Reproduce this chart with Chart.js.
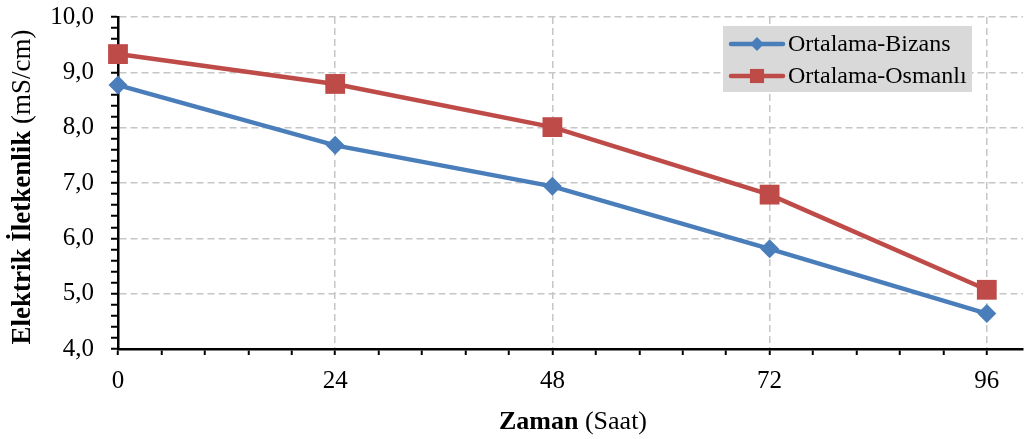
<!DOCTYPE html>
<html>
<head>
<meta charset="utf-8">
<script src="https://cdn.jsdelivr.net/npm/chart.js@4"></script>
<style>
  html, body { margin: 0; padding: 0; background: #fff; }
  #wrap { width: 1024px; height: 439px; }
</style>
</head>
<body>
<div id="wrap"><canvas id="c" width="1024" height="439"></canvas></div>
<script>
// data
const hours = [0, 24, 48, 72, 96];
const bizans = [8.77, 7.68, 6.94, 5.81, 4.64];
const osmanli = [9.33, 8.79, 8.01, 6.79, 5.07];
const seriesNames = ['Ortalama-Bizans', 'Ortalama-Osmanlı'];
const xTitle = ['Zaman', ' (Saat)'];
const yTitle = ['Elektrik İletkenlik', ' (mS/cm)'];

const BLUE = '#4a7ebb';
const RED = '#be4b48';
const SERIF = "'Liberation Serif', 'Times New Roman', serif";

// eksen basliklari (kalin + normal) ve sag ustteki legend kutusu
function mixedText(ctx, parts, x, y, size) {
    ctx.font = 'bold ' + size + 'px ' + SERIF;
    const w1 = ctx.measureText(parts[0]).width;
    ctx.font = size + 'px ' + SERIF;
    const w2 = ctx.measureText(parts[1]).width;
    const x0 = x - (w1 + w2) / 2;
    ctx.font = 'bold ' + size + 'px ' + SERIF;
    ctx.fillText(parts[0], x0, y);
    ctx.font = size + 'px ' + SERIF;
    ctx.fillText(parts[1], x0 + w1, y);
}

Chart.register({
    id: 'extras',
    afterDraw(chart) {
        const ctx = chart.ctx;
        ctx.save();
        ctx.fillStyle = '#000';
        ctx.textBaseline = 'middle';
        ctx.textAlign = 'left';

        mixedText(ctx, xTitle, 573, 422, 26);

        ctx.save();
        ctx.translate(23, 187);
        ctx.rotate(-Math.PI / 2);
        mixedText(ctx, yTitle, 0, 0, 27);
        ctx.restore();

        // legend
        const bx = 723, by = 26, bw = 249, bh = 66;
        ctx.fillStyle = '#d9d9d9';
        ctx.fillRect(bx, by, bw, bh);
        chart.data.datasets.forEach((ds, i) => {
            const y = by + 18 + i * 32;
            ctx.strokeStyle = ds.borderColor;
            ctx.lineWidth = 4.5;
            ctx.lineCap = 'round';
            ctx.beginPath();
            ctx.moveTo(731, y);
            ctx.lineTo(783, y);
            ctx.stroke();
            ctx.fillStyle = ds.pointBackgroundColor;
            Chart.helpers.drawPoint(ctx, {
                pointStyle: ds.pointStyle,
                radius: ds.pointStyle === 'rect' ? 10 : 7,
                borderWidth: 0
            }, 757, y);
            ctx.fillStyle = '#000';
            ctx.font = '24px ' + SERIF;
            ctx.fillText(ds.label, 788, y + 1);
        });
        ctx.restore();
    }
});

const grey = '#c6c6c6';

new Chart(document.getElementById('c').getContext('2d'), {
    type: 'line',
    data: {
        datasets: [{
            label: seriesNames[0],
            data: hours.map((h, i) => ({ x: h, y: bizans[i] })),
            borderColor: BLUE,
            backgroundColor: BLUE,
            pointBackgroundColor: BLUE,
            pointBorderWidth: 0,
            pointStyle: 'rectRot',
            pointRadius: 9.5,
            borderWidth: 4.5,
            tension: 0,
            clip: false
        }, {
            label: seriesNames[1],
            data: hours.map((h, i) => ({ x: h, y: osmanli[i] })),
            borderColor: RED,
            backgroundColor: RED,
            pointBackgroundColor: RED,
            pointBorderWidth: 0,
            pointStyle: 'rect',
            pointRadius: 14,
            borderWidth: 4.5,
            tension: 0,
            clip: false
        }]
    },
    options: {
        responsive: false,
        animation: false,
        events: [],
        layout: { autoPadding: false, padding: { top: 17, right: 1, left: 0, bottom: 0 } },
        plugins: {
            legend: { display: false },
            tooltip: { enabled: false }
        },
        scales: {
            x: {
                type: 'linear',
                min: 0,
                max: 100,
                afterBuildTicks(scale) {
                    scale.ticks = scale.ticks.filter(t => t.value <= 96.001);
                },
                afterFit(scale) { scale.height = 90; },
                ticks: {
                    stepSize: 4.8,
                    includeBounds: false,
                    autoSkip: false,
                    maxRotation: 0,
                    padding: 11,
                    color: '#000',
                    font: { family: SERIF, size: 25 },
                    callback: v => (Math.abs(v % 24) < 0.001 ? String(v) : '')
                },
                grid: {
                    color: c => (c.tick && c.tick.value > 0 && Math.abs(c.tick.value % 24) < 0.001 ? grey : 'rgba(0,0,0,0)'),
                    lineWidth: 1.5,
                    tickColor: '#000',
                    tickLength: 6,
                    tickWidth: 2
                },
                border: { color: '#000', width: 2.5, dash: [7, 4] }
            },
            y: {
                min: 4,
                max: 10,
                afterFit(scale) {
                    scale.width = 118;
                    scale.paddingTop = 0;
                    scale.paddingBottom = 0;
                },
                ticks: {
                    stepSize: 0.2,
                    autoSkip: false,
                    padding: 17,
                    color: '#000',
                    font: { family: SERIF, size: 25 },
                    callback: v => (Math.abs(v - Math.round(v)) < 0.001 ? v.toFixed(1).replace('.', ',') : '')
                },
                grid: {
                    color: c => (c.tick && c.tick.value > 4.001 && Math.abs(c.tick.value - Math.round(c.tick.value)) < 0.001 ? grey : 'rgba(0,0,0,0)'),
                    lineWidth: 1.5,
                    tickColor: '#000',
                    tickLength: 7,
                    tickWidth: 2
                },
                border: { color: '#000', width: 2.5, dash: [7, 4] }
            }
        }
    }
});
</script>
</body>
</html>
